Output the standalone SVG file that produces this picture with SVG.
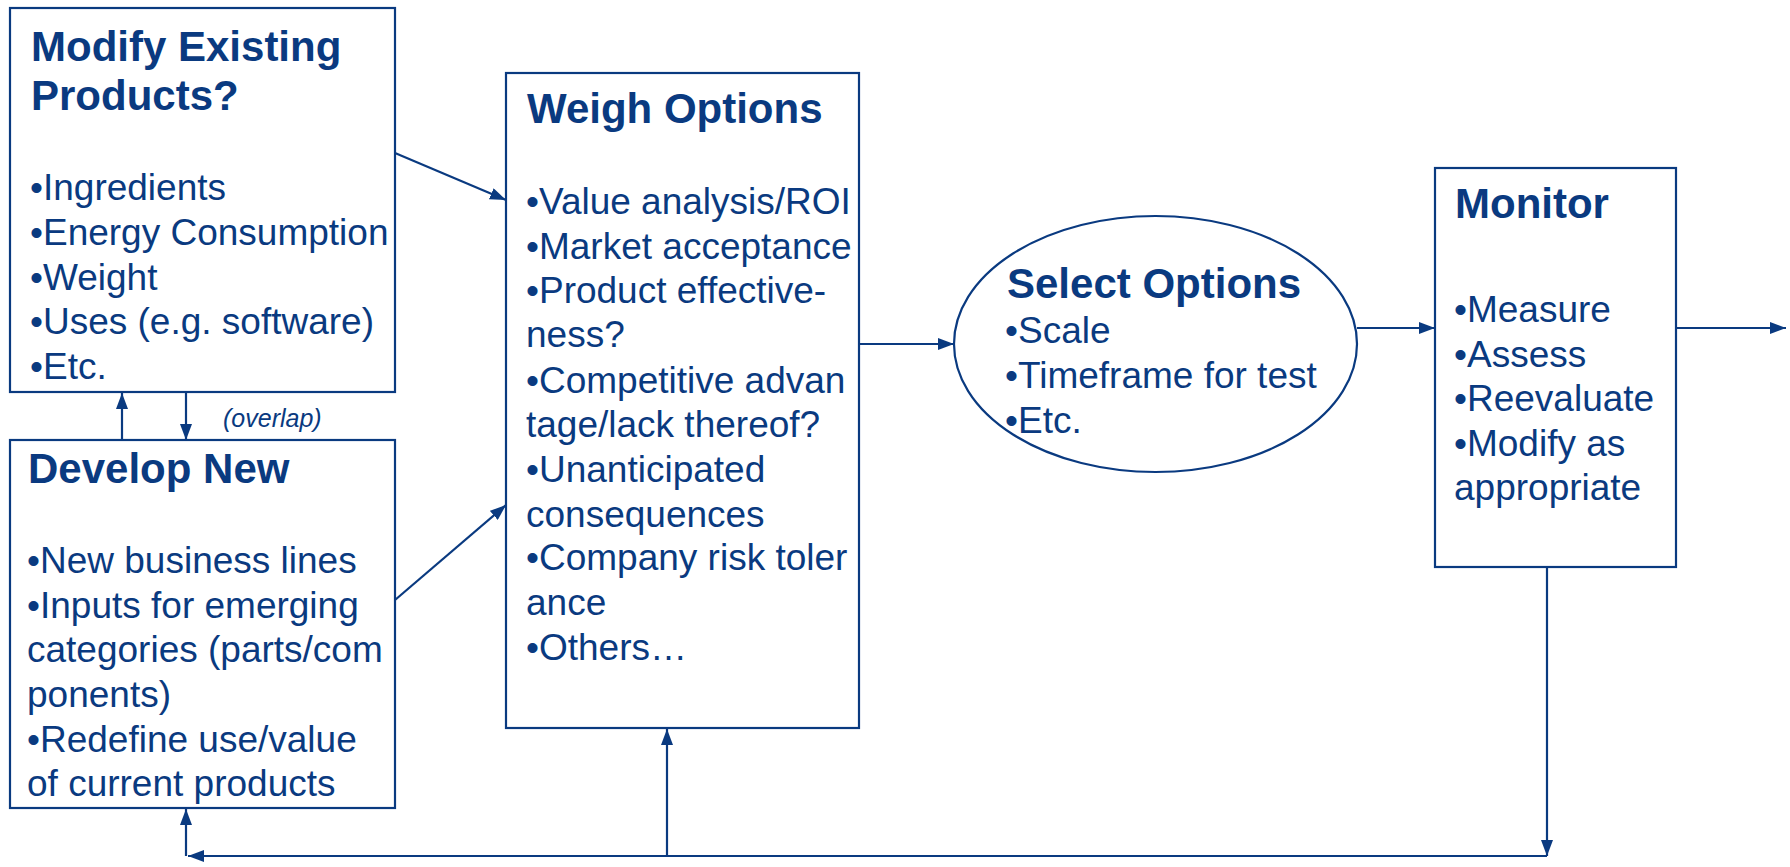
<svg xmlns="http://www.w3.org/2000/svg" width="1790" height="867" viewBox="0 0 1790 867">
<defs>
<marker id="arr" viewBox="0 0 16 12" refX="16" refY="6" markerWidth="16" markerHeight="12" markerUnits="userSpaceOnUse" orient="auto">
<path d="M0,0 L16,6 L0,12 z" fill="#0a3a80"/>
</marker>
<style>
.box{fill:#fff;stroke:#0a3a80;stroke-width:2.2}
.t{font-family:"Liberation Sans",Arial,sans-serif;font-weight:bold;font-size:42px;fill:#0a3a80}
.b{font-family:"Liberation Sans",Arial,sans-serif;font-size:37px;fill:#0a3a80}
.c{fill:none;stroke:#0a3a80;stroke-width:2.2}
.ca{fill:none;stroke:#0a3a80;stroke-width:2.2;marker-end:url(#arr)}
.n{font-family:"Liberation Sans",Arial,sans-serif;font-style:italic;font-size:25px;fill:#0a3a80}
</style>
</defs>
<rect width="1790" height="867" fill="#fff"/>
<g id="connectors">
<line class="ca" x1="395" y1="153" x2="506" y2="200"/>
<line class="ca" x1="395" y1="600" x2="506" y2="505"/>
<line class="ca" x1="122" y1="440" x2="122" y2="393"/>
<line class="ca" x1="186" y1="392" x2="186" y2="440"/>
<line class="ca" x1="859" y1="344" x2="954" y2="344"/>
<line class="ca" x1="1357" y1="328" x2="1435" y2="328"/>
<line class="ca" x1="1676" y1="328" x2="1786" y2="328"/>
<line class="ca" x1="1547" y1="567" x2="1547" y2="856"/>
<line class="ca" x1="1547" y1="856" x2="188" y2="856"/>
<line class="ca" x1="186" y1="856" x2="186" y2="809"/>
<line class="ca" x1="667" y1="856" x2="667" y2="729"/>
<text class="n" x="223" y="427">(overlap)</text>
</g>
<g id="modify">
<rect class="box" x="10" y="8" width="385" height="384"/>
<text class="t" x="31" y="61">Modify Existing</text>
<text class="t" x="31" y="110">Products?</text>
<text class="b" x="30" y="200">•Ingredients</text>
<text class="b" x="30" y="245">•Energy Consumption</text>
<text class="b" x="30" y="290">•Weight</text>
<text class="b" x="30" y="334">•Uses (e.g. software)</text>
<text class="b" x="30" y="379">•Etc.</text>
</g>
<g id="develop">
<rect class="box" x="10" y="440" width="385" height="368"/>
<text class="t" x="28" y="483">Develop New</text>
<text class="b" x="27" y="573">•New business lines</text>
<text class="b" x="27" y="618">•Inputs for emerging</text>
<text class="b" x="27" y="662">categories (parts/com</text>
<text class="b" x="27" y="707">ponents)</text>
<text class="b" x="27" y="752">•Redefine use/value</text>
<text class="b" x="27" y="796">of current products</text>
</g>
<g id="weigh">
<rect class="box" x="506" y="73" width="353" height="655"/>
<text class="t" x="527" y="123">Weigh Options</text>
<text class="b" x="526" y="214">•Value analysis/ROI</text>
<text class="b" x="526" y="259">•Market acceptance</text>
<text class="b" x="526" y="303">•Product effective-</text>
<text class="b" x="526" y="347">ness?</text>
<text class="b" x="526" y="393">•Competitive advan</text>
<text class="b" x="526" y="437">tage/lack thereof?</text>
<text class="b" x="526" y="482">•Unanticipated</text>
<text class="b" x="526" y="527">consequences</text>
<text class="b" x="526" y="570">•Company risk toler</text>
<text class="b" x="526" y="615">ance</text>
<text class="b" x="526" y="660">•Others…</text>
</g>
<g id="select">
<ellipse class="box" cx="1155.5" cy="344" rx="201.5" ry="128"/>
<text class="t" x="1007" y="298">Select Options</text>
<text class="b" x="1005" y="343">•Scale</text>
<text class="b" x="1005" y="388">•Timeframe for test</text>
<text class="b" x="1005" y="433">•Etc.</text>
</g>
<g id="monitor">
<rect class="box" x="1435" y="168" width="241" height="399"/>
<text class="t" x="1455" y="218">Monitor</text>
<text class="b" x="1454" y="322">•Measure</text>
<text class="b" x="1454" y="367">•Assess</text>
<text class="b" x="1454" y="411">•Reevaluate</text>
<text class="b" x="1454" y="456">•Modify as</text>
<text class="b" x="1454" y="500">appropriate</text>
</g>
</svg>
